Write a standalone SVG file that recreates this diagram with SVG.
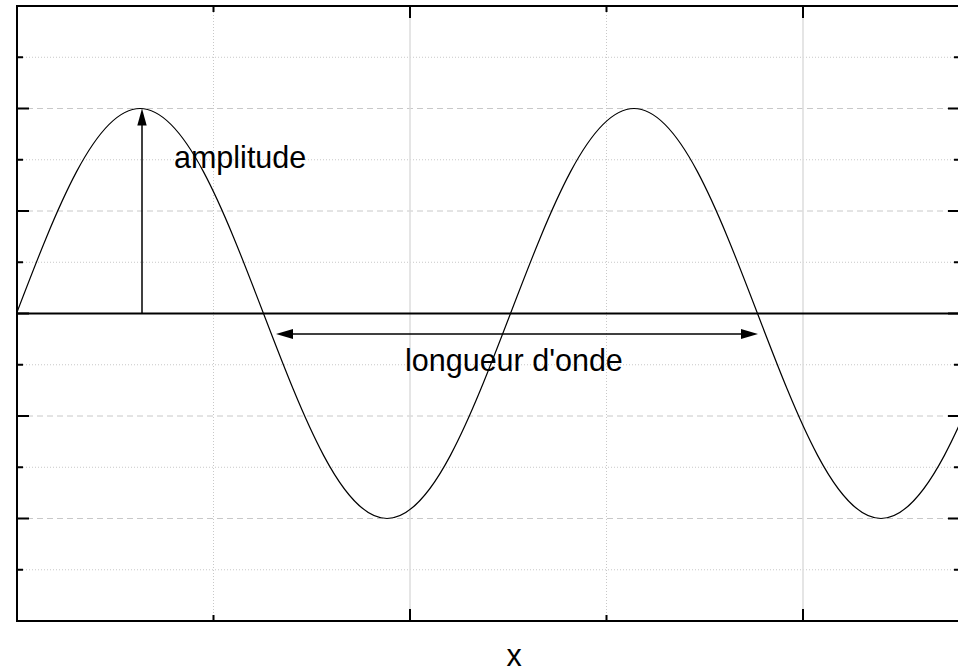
<svg xmlns="http://www.w3.org/2000/svg" width="958" height="672" viewBox="0 0 958 672">
  <style>
    .minor { stroke: #c8c8c8; stroke-width: 1; stroke-dasharray: 1 2; fill: none; }
    .major { stroke: #c8c8c8; stroke-width: 1; stroke-dasharray: 6 4; fill: none; }
    .vmajor { stroke: #dcdcdc; stroke-width: 1.5; fill: none; }
    .frame { stroke: #000; stroke-width: 2; fill: none; }
    .tick { stroke: #000; stroke-width: 2; fill: none; }
    .curve { stroke: #000; stroke-width: 1.2; fill: none; }
    .arrow { stroke: #000; stroke-width: 1.5; fill: none; }
    .head { fill: #000; stroke: none; }
    .lbl { font-family: "Liberation Sans", Arial, Helvetica, sans-serif; font-size: 30.5px; fill: #000; }
  </style>
  <defs>
    <clipPath id="plot">
      <rect x="17" y="6" width="943" height="615"/>
    </clipPath>
  </defs>
  <rect x="0" y="0" width="958" height="672" fill="#fff"/>

  <g id="grid">
    <line class="minor" x1="17" y1="57.25" x2="960" y2="57.25"/>
    <line class="minor" x1="17" y1="159.75" x2="960" y2="159.75"/>
    <line class="minor" x1="17" y1="262.25" x2="960" y2="262.25"/>
    <line class="minor" x1="17" y1="364.75" x2="960" y2="364.75"/>
    <line class="minor" x1="17" y1="467.25" x2="960" y2="467.25"/>
    <line class="minor" x1="17" y1="569.75" x2="960" y2="569.75"/>
    <line class="major" x1="17" y1="108.5" x2="960" y2="108.5"/>
    <line class="major" x1="17" y1="211" x2="960" y2="211"/>
    <line class="major" x1="17" y1="313.5" x2="960" y2="313.5"/>
    <line class="major" x1="17" y1="416" x2="960" y2="416"/>
    <line class="major" x1="17" y1="518.5" x2="960" y2="518.5"/>
    <line class="minor" x1="213.5" y1="6" x2="213.5" y2="621"/>
    <line class="minor" x1="606.5" y1="6" x2="606.5" y2="621"/>
    <line class="vmajor" x1="410" y1="6" x2="410" y2="621"/>
    <line class="vmajor" x1="803" y1="6" x2="803" y2="621"/>
  </g>

  <g id="axes">
    <rect class="frame" x="17" y="6" width="943" height="615"/>
    <line class="frame" x1="17" y1="313.5" x2="960" y2="313.5"/>
    <path class="tick" d="M17 57.25h6M17 108.5h12M17 159.75h6M17 211h12M17 262.25h6M17 313.5h12M17 364.75h6M17 416h12M17 467.25h6M17 518.5h12M17 569.75h6"/>
    <path class="tick" d="M960 57.25h-6M960 108.5h-12M960 159.75h-6M960 211h-12M960 262.25h-6M960 313.5h-12M960 364.75h-6M960 416h-12M960 467.25h-6M960 518.5h-12M960 569.75h-6"/>
    <path class="tick" d="M213.5 6v6M410 6v12M606.5 6v6M803 6v12"/>
    <path class="tick" d="M213.5 621v-6M410 621v-12M606.5 621v-6M803 621v-12"/>
  </g>

  <g id="wave" clip-path="url(#plot)">
    <path class="curve" d="M16.5 313.5
      c40.2 -104.92 78.85 -205 123.5 -205
      c44.65 0 83.3 100.08 123.5 205
      c40.2 104.92 78.85 205 123.5 205
      c44.65 0 83.3 -100.08 123.5 -205
      c40.2 -104.92 78.85 -205 123.5 -205
      c44.65 0 83.3 100.08 123.5 205
      c40.2 104.92 78.85 205 123.5 205
      c44.65 0 83.3 -100.08 123.5 -205"/>
  </g>

  <g id="connectors">
    <g id="amplitude-arrow">
      <line class="arrow" x1="142" y1="313.5" x2="142" y2="122"/>
      <polygon class="head" points="142,108.5 137.3,125.5 146.7,125.5"/>
    </g>
    <g id="wavelength-arrow">
      <line class="arrow" x1="290" y1="334" x2="744" y2="334"/>
      <polygon class="head" points="276,334 293,329 293,339"/>
      <polygon class="head" points="758,334 741,329 741,339"/>
    </g>
  </g>

  <g id="labels">
    <text id="amplitude" class="lbl" x="174" y="167.5">amplitude</text>
    <text id="wavelength" class="lbl" x="405" y="370.5">longueur d'onde</text>
    <text id="x-label" class="lbl" x="514" y="666" text-anchor="middle">x</text>
  </g>
</svg>
